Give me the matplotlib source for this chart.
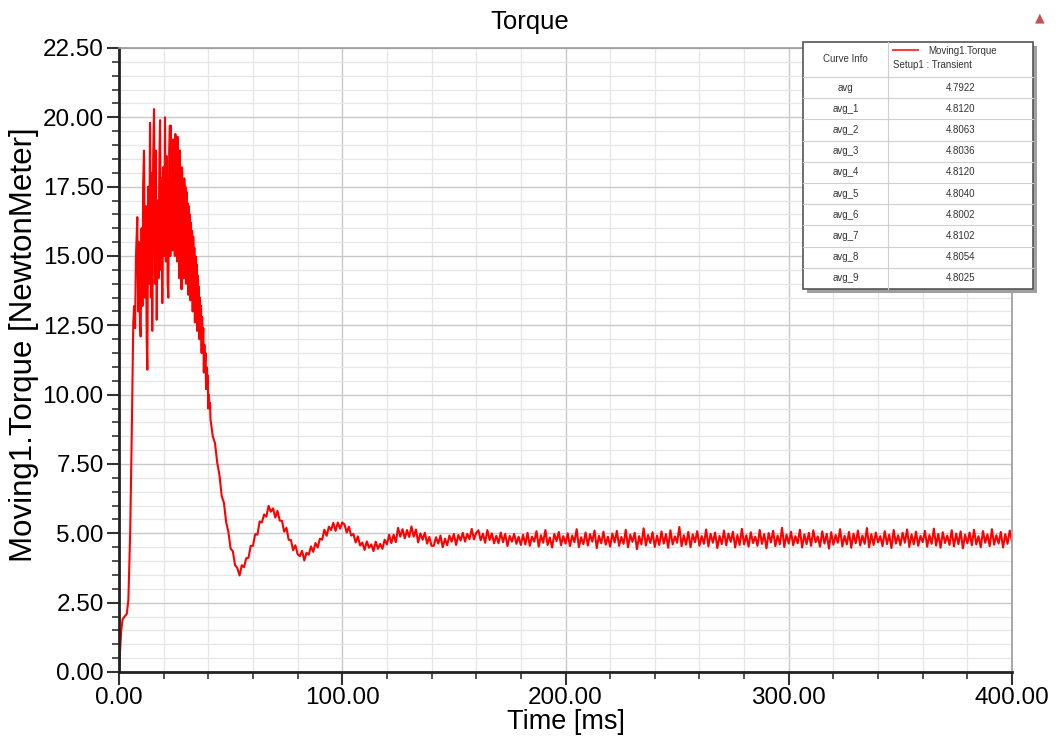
import matplotlib
matplotlib.use("Agg")
import matplotlib.pyplot as plt
import matplotlib.patches as mpatches
from matplotlib.ticker import MultipleLocator, FormatStrFormatter

plt.rcParams['font.family'] = ['Liberation Sans', 'DejaVu Sans']

# start-up + first torque spikes (time ms, torque N.m)
t_start = [0, 0.5, 1.0, 1.6, 2.5, 3.5, 4.2, 5.0, 5.7,
           6.4, 6.8, 7.2, 7.6, 8.2, 8.6, 9.0, 9.4, 9.7, 10.1, 10.5, 10.8, 11.2, 11.6,
           12.0, 12.4, 12.7, 13.1, 13.5, 13.9, 14.3, 14.6, 14.9, 15.3, 15.7, 16.1,
           16.5, 16.9, 17.3, 17.7, 18.1, 18.4, 18.8, 19.1, 19.4, 19.8, 20.2, 20.6,
           21.0, 21.4, 21.8, 22.1, 22.5, 22.8]
v_start = [0.0, 0.8, 1.5, 1.9, 2.0, 2.1, 2.6, 5.0, 8.5,
           12.6, 13.2, 12.4, 15.0, 16.4, 13.0, 15.5, 12.5, 12.1, 16.0, 13.2, 17.5, 18.8, 13.5,
           16.8, 12.0, 10.9, 17.5, 14.0, 19.8, 13.5, 18.0, 12.3, 18.5, 20.3, 14.0,
           18.8, 12.7, 17.0, 14.2, 18.6, 19.9, 14.5, 17.8, 13.3, 18.2, 15.0, 20.0,
           14.8, 18.6, 14.0, 13.5, 18.8, 19.7]

# dense ripple block, 0.25 ms samples from 23.0 ms
dense_t0, dense_dt = 23.0, 0.25
v_dense = [15.0, 19.7, 15.6, 18.9,
           15.2, 19.2, 16.0, 18.6,
           15.0, 19.4, 15.8, 19.0,
           14.8, 19.3, 15.4, 18.5,
           14.2, 18.8, 15.0, 18.1,
           13.8, 18.2, 14.6, 17.6,
           14.2, 17.8, 14.4, 17.5,
           14.0, 17.3, 14.6, 16.9,
           13.6, 16.8, 14.2, 16.5,
           13.4, 16.2, 13.9, 15.9,
           13.0, 15.7, 13.5, 15.3,
           12.6, 15.0, 13.1, 14.7,
           12.3, 14.3, 12.7, 13.9,
           12.0, 13.5, 12.2, 13.2,
           11.5, 12.8, 11.7, 12.4,
           10.8, 11.8, 11.0, 11.5,
           10.2, 11.0, 10.4, 10.7,
           9.5, 10.0, 9.6, 9.7]
t_dense = [dense_t0 + dense_dt * i for i in range(len(v_dense))]

# decay and steady state, one sample per ms from 41 to 400
v_tail = [9.10, 8.50, 8.25, 7.55, 7.10, 6.35, 6.10, 5.40, 5.05, 4.45, 4.35, 3.85, 3.75, 3.48, 3.85, 3.78, 4.10, 4.12, 4.55, 4.55,
          4.97, 4.95, 5.43, 5.39, 5.68, 5.60, 5.99, 5.78, 5.90, 5.57, 5.81, 5.46, 5.45, 5.06, 5.20, 4.77, 4.76, 4.39, 4.57, 4.25,
          4.18, 4.37, 4.02, 4.30, 4.23, 4.53, 4.33, 4.65, 4.49, 4.81, 4.77, 5.13, 4.91, 5.24, 5.12, 5.38, 5.09, 5.39, 5.17, 5.39,
          5.32, 5.03, 5.24, 4.92, 4.98, 4.67, 4.89, 4.56, 4.67, 4.40, 4.71, 4.48, 4.60, 4.36, 4.70, 4.44, 4.62, 4.44, 4.77, 4.60,
          4.95, 4.65, 4.95, 4.68, 5.20, 4.88, 5.15, 4.82, 5.12, 4.87, 5.25, 4.88, 5.14, 4.67, 5.00, 4.77, 5.02, 4.63, 4.87, 4.55,
          4.55, 4.86, 4.63, 4.92, 4.50, 4.81, 4.57, 4.92, 4.70, 4.98, 4.58, 4.94, 4.74, 5.02, 4.70, 4.98, 4.79, 5.16, 4.78, 5.02,
          5.11, 4.75, 4.99, 4.66, 5.12, 4.76, 5.00, 4.64, 4.91, 4.64, 5.03, 4.68, 4.98, 4.54, 4.91, 4.70, 4.98, 4.62, 4.88, 4.58,
          4.95, 4.60, 5.02, 4.55, 4.88, 4.70, 5.08, 4.52, 4.93, 4.66, 5.12, 4.58, 4.85, 4.49, 4.98, 4.72, 5.05, 4.57, 4.90, 4.63,
          5.00, 4.54, 4.92, 4.68, 5.15, 4.50, 4.86, 4.61, 5.03, 4.56, 4.97, 4.70, 5.10, 4.47, 4.91, 4.64, 5.06, 4.59, 4.88, 4.52,
          4.99, 4.67, 5.09, 4.55, 4.87, 4.62, 5.13, 4.50, 4.95, 4.69, 5.02, 4.43, 4.90, 4.60, 5.18, 4.56, 4.94, 4.65, 5.04, 4.51,
          4.92, 4.58, 5.07, 4.63, 4.97, 4.48, 5.11, 4.60, 4.89, 4.66, 5.23, 4.54, 4.93, 4.59, 5.05, 4.50, 4.96, 4.68, 5.08, 4.55,
          4.90, 4.62, 5.14, 4.53, 4.98, 4.66, 5.03, 4.47, 4.91, 4.61, 5.10, 4.57, 4.99, 4.69, 5.06, 4.49, 4.94, 4.58, 5.16, 4.60,
          4.93, 4.52, 5.04, 4.65, 4.88, 4.55, 5.12, 4.62, 4.97, 4.46, 5.01, 4.67, 5.09, 4.54, 4.92, 4.60, 5.20, 4.51, 4.95, 4.63,
          5.06, 4.57, 4.90, 4.64, 5.13, 4.49, 4.96, 4.61, 5.02, 4.55, 5.11, 4.68, 4.89, 4.52, 5.07, 4.63, 4.98, 4.45, 5.04, 4.59,
          4.94, 4.66, 5.15, 4.53, 4.91, 4.60, 5.05, 4.48, 4.99, 4.64, 5.10, 4.56, 4.92, 4.62, 5.19, 4.50, 4.97, 4.58, 5.03, 4.67,
          4.90, 4.54, 5.08, 4.61, 4.95, 4.47, 5.12, 4.63, 4.93, 4.57, 5.02, 4.66, 5.14, 4.51, 4.96, 4.60, 5.06, 4.55, 4.91, 4.68,
          5.09, 4.52, 4.94, 4.62, 5.17, 4.56, 4.98, 4.48, 5.04, 4.65, 4.92, 4.58, 5.11, 4.53, 4.99, 4.61, 5.07, 4.46, 4.95, 4.64,
          5.03, 4.57, 5.13, 4.60, 4.90, 4.50, 5.08, 4.66, 4.96, 4.54, 5.15, 4.59, 4.93, 4.63, 5.05, 4.49, 4.97, 4.62, 5.10, 4.70]
t_tail = list(range(41, 41 + len(v_tail)))

time_ms = t_start + t_dense + t_tail
torque = v_start + v_dense + v_tail

avg_names = ['avg', 'avg_1', 'avg_2', 'avg_3', 'avg_4', 'avg_5', 'avg_6', 'avg_7', 'avg_8', 'avg_9']
avg_values = ['4.7922', '4.8120', '4.8063', '4.8036', '4.8120', '4.8040', '4.8002', '4.8102', '4.8054', '4.8025']

W, H = 1058, 742
fig = plt.figure(figsize=(W / 100, H / 100), dpi=100)
ax = fig.add_axes([119 / W, 1 - 672 / H, (1012 - 119) / W, (672 - 48) / H])

ax.plot(time_ms, torque, color='#ff0000', lw=1.5)

ax.set_xlim(0, 400)
ax.set_ylim(0, 22.5)
ax.xaxis.set_major_locator(MultipleLocator(100))
ax.xaxis.set_minor_locator(MultipleLocator(20))
ax.yaxis.set_major_locator(MultipleLocator(2.5))
ax.yaxis.set_minor_locator(MultipleLocator(0.5))
ax.xaxis.set_major_formatter(FormatStrFormatter('%.2f'))
ax.yaxis.set_major_formatter(FormatStrFormatter('%.2f'))
ax.grid(True, which='major', color='#c8c8c8', lw=1.0)
ax.grid(True, which='minor', color='#e6e6e6', lw=0.9)
ax.set_axisbelow(True)
ax.tick_params(which='major', direction='out', length=9, width=1.5, color='#333333',
               labelsize=17.5, pad=2)
ax.tick_params(which='minor', direction='out', length=5, width=1.2, color='#333333')
for s in ['left', 'bottom']:
    ax.spines[s].set_color('#222222')
    ax.spines[s].set_linewidth(2)
for s in ['top', 'right']:
    ax.spines[s].set_color('#9a9a9a')
    ax.spines[s].set_linewidth(1.2)

ax.set_xlabel('Time [ms]', fontsize=19.5, labelpad=0)
ax.set_ylabel('Moving1.Torque [NewtonMeter]', fontsize=22.5, labelpad=4)
ax.yaxis.set_label_coords(-0.09, 0.525)
fig.text(530 / W, 1 - 22 / H, 'Torque', fontsize=18.5, ha='center', va='center')
fig.text(1040 / W, 1 - 18 / H, '\u25b2', fontsize=9, color='#c85050', ha='center', va='center',
         family='DejaVu Sans')

# curve info box
def fx(px):
    return px / W

def fy(py):
    return 1 - py / H

x0, x1, xm = 803, 1033, 888
y0, yh, row_h = 42, 77, 21.2
y1 = yh + row_h * len(avg_names)
fig.patches.append(mpatches.Rectangle((fx(x0 + 4), fy(y1 + 4)), fx(x1 - x0), (y1 - y0) / H,
                                      transform=fig.transFigure, facecolor='#a0a0a0',
                                      edgecolor='none', zorder=5))
fig.patches.append(mpatches.Rectangle((fx(x0), fy(y1)), fx(x1 - x0), (y1 - y0) / H,
                                      transform=fig.transFigure, facecolor='white',
                                      edgecolor='#555555', lw=1.2, zorder=6))
fig.lines.append(plt.Line2D([fx(xm), fx(xm)], [fy(y0), fy(y1)], transform=fig.transFigure,
                            color='#cfcfcf', lw=0.8, zorder=7))
for i in range(len(avg_names)):
    yy = yh + i * row_h
    fig.lines.append(plt.Line2D([fx(x0), fx(x1)], [fy(yy), fy(yy)], transform=fig.transFigure,
                                color='#cfcfcf', lw=0.8, zorder=7))
    fig.text(fx((x0 + xm) / 2), fy(yy + row_h / 2), avg_names[i], fontsize=7, ha='center',
             va='center', color='#333333', zorder=8)
    fig.text(fx((xm + x1) / 2), fy(yy + row_h / 2), avg_values[i], fontsize=7, ha='center',
             va='center', color='#333333', zorder=8)
fig.text(fx((x0 + xm) / 2), fy((y0 + yh) / 2), 'Curve Info', fontsize=7, ha='center',
         va='center', color='#333333', zorder=8)
fig.lines.append(plt.Line2D([fx(893), fx(918)], [fy(50), fy(50)], transform=fig.transFigure,
                            color='#ff4040', lw=1.5, zorder=8))
fig.text(fx(928), fy(51), 'Moving1.Torque', fontsize=7, ha='left', va='center',
         color='#333333', zorder=8)
fig.text(fx(893), fy(65), 'Setup1 : Transient', fontsize=7, ha='left', va='center',
         color='#333333', zorder=8)

fig.savefig('out.png', dpi=100)
